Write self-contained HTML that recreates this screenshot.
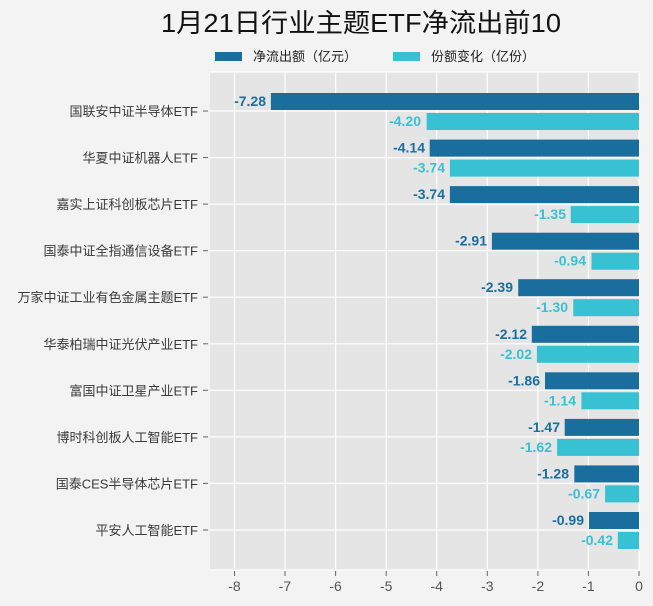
<!DOCTYPE html>
<html><head><meta charset="utf-8"><style>
html,body{margin:0;padding:0;background:#f3f3f3;}
svg{display:block;font-family:"Liberation Sans","Noto Sans CJK SC",sans-serif;}
</style></head><body>
<svg width="653" height="606" viewBox="0 0 653 606" xmlns="http://www.w3.org/2000/svg">
<rect width="653" height="606" fill="#f3f3f3"/>
<text x="361" y="32" text-anchor="middle" font-size="26" fill="#111" textLength="400" lengthAdjust="spacingAndGlyphs">1月21日行业主题ETF净流出前10</text>
<rect x="215" y="52" width="27" height="9" fill="#1a6e9e"/>
<text x="253" y="61" font-size="13" fill="#222">净流出额（亿元）</text>
<rect x="393" y="52" width="27" height="9" fill="#38c0d3"/>
<text x="431" y="61" font-size="13" fill="#222">份额变化（亿份）</text>
<rect x="210" y="72" width="429" height="498" fill="#e5e5e5"/>
<g stroke="#fff" stroke-width="1.2">
<line x1="234.5" y1="72" x2="234.5" y2="570"/><line x1="285" y1="72" x2="285" y2="570"/>
<line x1="335.6" y1="72" x2="335.6" y2="570"/><line x1="386.2" y1="72" x2="386.2" y2="570"/>
<line x1="436.7" y1="72" x2="436.7" y2="570"/><line x1="487.3" y1="72" x2="487.3" y2="570"/>
<line x1="537.9" y1="72" x2="537.9" y2="570"/><line x1="588.4" y1="72" x2="588.4" y2="570"/>
<line x1="639" y1="72" x2="639" y2="570"/>
<line x1="210" y1="72" x2="639" y2="72"/>
<line x1="210" y1="570" x2="639" y2="570"/>
<line x1="210" y1="111" x2="639" y2="111"/><line x1="210" y1="157.6" x2="639" y2="157.6"/>
<line x1="210" y1="204.1" x2="639" y2="204.1"/><line x1="210" y1="250.7" x2="639" y2="250.7"/>
<line x1="210" y1="297.2" x2="639" y2="297.2"/><line x1="210" y1="343.8" x2="639" y2="343.8"/>
<line x1="210" y1="390.3" x2="639" y2="390.3"/><line x1="210" y1="436.9" x2="639" y2="436.9"/>
<line x1="210" y1="483.4" x2="639" y2="483.4"/><line x1="210" y1="530" x2="639" y2="530"/>
</g>
<g stroke="#666" stroke-width="1">
<line x1="203" y1="111" x2="208" y2="111"/><line x1="203" y1="157.6" x2="208" y2="157.6"/>
<line x1="203" y1="204.1" x2="208" y2="204.1"/><line x1="203" y1="250.7" x2="208" y2="250.7"/>
<line x1="203" y1="297.2" x2="208" y2="297.2"/><line x1="203" y1="343.8" x2="208" y2="343.8"/>
<line x1="203" y1="390.3" x2="208" y2="390.3"/><line x1="203" y1="436.9" x2="208" y2="436.9"/>
<line x1="203" y1="483.4" x2="208" y2="483.4"/><line x1="203" y1="530" x2="208" y2="530"/>
<line x1="234.5" y1="571" x2="234.5" y2="576"/><line x1="285" y1="571" x2="285" y2="576"/>
<line x1="335.6" y1="571" x2="335.6" y2="576"/><line x1="386.2" y1="571" x2="386.2" y2="576"/>
<line x1="436.7" y1="571" x2="436.7" y2="576"/><line x1="487.3" y1="571" x2="487.3" y2="576"/>
<line x1="537.9" y1="571" x2="537.9" y2="576"/><line x1="588.4" y1="571" x2="588.4" y2="576"/>
<line x1="639" y1="571" x2="639" y2="576"/>
</g>
<g font-size="14" fill="#555" text-anchor="middle">
<text x="234.5" y="591">-8</text><text x="285" y="591">-7</text><text x="335.6" y="591">-6</text>
<text x="386.2" y="591">-5</text><text x="436.7" y="591">-4</text><text x="487.3" y="591">-3</text>
<text x="537.9" y="591">-2</text><text x="588.4" y="591">-1</text><text x="639" y="591">0</text>
</g>
<g font-size="13" fill="#3a3a3a" text-anchor="end">
<text x="198" y="116">国联安中证半导体ETF</text>
<text x="198" y="162.6">华夏中证机器人ETF</text>
<text x="198" y="209.1">嘉实上证科创板芯片ETF</text>
<text x="198" y="255.7">国泰中证全指通信设备ETF</text>
<text x="198" y="302.2">万家中证工业有色金属主题ETF</text>
<text x="198" y="348.8">华泰柏瑞中证光伏产业ETF</text>
<text x="198" y="395.3">富国中证卫星产业ETF</text>
<text x="198" y="441.9">博时科创板人工智能ETF</text>
<text x="198" y="488.4">国泰CES半导体芯片ETF</text>
<text x="198" y="535">平安人工智能ETF</text>
</g>
<g fill="#1a6e9e">
<rect x="270.9" y="93" width="368.1" height="17"/>
<rect x="429.7" y="139.6" width="209.3" height="17"/>
<rect x="449.9" y="186.1" width="189.1" height="17"/>
<rect x="491.9" y="232.7" width="147.1" height="17"/>
<rect x="518.2" y="279.2" width="120.8" height="17"/>
<rect x="531.8" y="325.8" width="107.2" height="17"/>
<rect x="545" y="372.3" width="94" height="17"/>
<rect x="564.7" y="418.9" width="74.3" height="17"/>
<rect x="574.3" y="465.4" width="64.7" height="17"/>
<rect x="589" y="512" width="50" height="17"/>
</g>
<g fill="#38c0d3">
<rect x="426.6" y="113" width="212.4" height="17"/>
<rect x="449.9" y="159.6" width="189.1" height="17"/>
<rect x="570.7" y="206.1" width="68.3" height="17"/>
<rect x="591.5" y="252.7" width="47.5" height="17"/>
<rect x="573.3" y="299.2" width="65.7" height="17"/>
<rect x="536.9" y="345.8" width="102.1" height="17"/>
<rect x="581.4" y="392.3" width="57.6" height="17"/>
<rect x="557.1" y="438.9" width="81.9" height="17"/>
<rect x="605.1" y="485.4" width="33.9" height="17"/>
<rect x="617.8" y="532" width="21.2" height="17"/>
</g>
<g font-size="14" font-weight="bold" fill="#1a6e9e" text-anchor="end">
<text x="266" y="106">-7.28</text><text x="425" y="152.6">-4.14</text>
<text x="445" y="199.1">-3.74</text><text x="487" y="245.7">-2.91</text>
<text x="513" y="292.2">-2.39</text><text x="527" y="338.8">-2.12</text>
<text x="540" y="385.3">-1.86</text><text x="560" y="431.9">-1.47</text>
<text x="569" y="478.4">-1.28</text><text x="584" y="525">-0.99</text>
</g>
<g font-size="14" font-weight="bold" fill="#38c0d3" text-anchor="end">
<text x="421" y="126">-4.20</text><text x="445" y="172.6">-3.74</text>
<text x="566" y="219.1">-1.35</text><text x="586" y="265.7">-0.94</text>
<text x="568" y="312.2">-1.30</text><text x="532" y="358.8">-2.02</text>
<text x="576" y="405.3">-1.14</text><text x="552" y="451.9">-1.62</text>
<text x="600" y="498.4">-0.67</text><text x="613" y="545">-0.42</text>
</g>
</svg>
</body></html>
